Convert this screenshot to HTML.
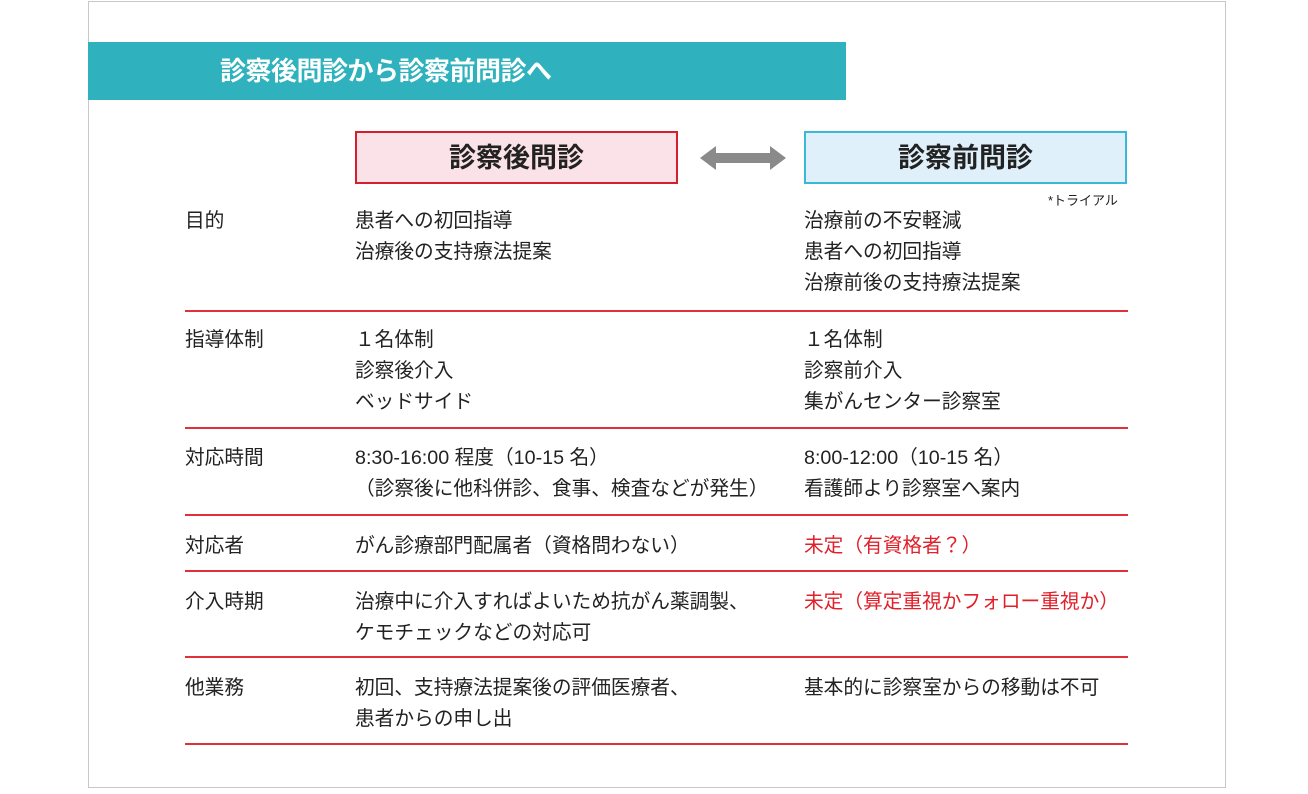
<!DOCTYPE html>
<html><head><meta charset="utf-8"><style>
body{margin:0;width:1308px;height:794px;background:#fff;position:relative;overflow:hidden;font-family:"Liberation Sans","Noto Sans CJK JP",sans-serif;color:#222}
.a{position:absolute}
.frame{left:88px;top:1px;width:1138px;height:787px;border:1px solid #c8c8c8;box-sizing:border-box}
.band{left:88px;top:42px;width:758px;height:58px;background:#2fb2bd}
.title{left:220px;top:55px;font-size:26px;font-weight:bold;color:#fff;line-height:32px;letter-spacing:-0.5px}
.box{top:131px;width:323px;height:53px;box-sizing:border-box;text-align:center;font-size:27px;font-weight:bold;line-height:50px}
.t{font-size:19.7px;line-height:31px;white-space:nowrap}
.r{color:#e0202a}
.hl{left:185px;width:943px;height:2px;background:#e0303a}
</style></head><body>
<div class="a frame"></div>
<div class="a band"></div>
<div class="a title">診察後問診から診察前問診へ</div>
<div class="a box" style="left:355px;background:#fbe1e8;border:2px solid #d4202e">診察後問診</div>
<div class="a box" style="left:804px;background:#dff0fb;border:2px solid #3bb8d8">診察前問診</div>
<svg class="a" style="left:698px;top:143px" width="90" height="30"><polygon points="2,15 18,3 18,10 72,10 72,3 88,15 72,27 72,20 18,20 18,27" fill="#8a8a8a"/></svg>
<div class="a" style="left:1048px;top:190px;font-size:13px">*トライアル</div>

<div class="a t" style="left:185px;top:206px">目的</div>
<div class="a t" style="left:355px;top:206px">患者への初回指導<br>治療後の支持療法提案</div>
<div class="a t" style="left:804px;top:206px">治療前の不安軽減<br>患者への初回指導<br>治療前後の支持療法提案</div>
<div class="a hl" style="top:310px"></div>

<div class="a t" style="left:185px;top:325px">指導体制</div>
<div class="a t" style="left:355px;top:325px">１名体制<br>診察後介入<br>ベッドサイド</div>
<div class="a t" style="left:804px;top:325px">１名体制<br>診察前介入<br>集がんセンター診察室</div>
<div class="a hl" style="top:427px"></div>

<div class="a t" style="left:185px;top:443px">対応時間</div>
<div class="a t" style="left:355px;top:443px">8:30-16:00 程度（10-15 名）<br>（診察後に他科併診、食事、検査などが発生）</div>
<div class="a t" style="left:804px;top:443px">8:00-12:00（10-15 名）<br>看護師より診察室へ案内</div>
<div class="a hl" style="top:514px"></div>

<div class="a t" style="left:185px;top:531px">対応者</div>
<div class="a t" style="left:355px;top:531px">がん診療部門配属者（資格問わない）</div>
<div class="a t r" style="left:804px;top:531px">未定（有資格者？）</div>
<div class="a hl" style="top:570px"></div>

<div class="a t" style="left:185px;top:587px">介入時期</div>
<div class="a t" style="left:355px;top:587px">治療中に介入すればよいため抗がん薬調製、<br>ケモチェックなどの対応可</div>
<div class="a t r" style="left:804px;top:587px">未定（算定重視かフォロー重視か）</div>
<div class="a hl" style="top:656px"></div>

<div class="a t" style="left:185px;top:673px">他業務</div>
<div class="a t" style="left:355px;top:673px">初回、支持療法提案後の評価医療者、<br>患者からの申し出</div>
<div class="a t" style="left:804px;top:673px">基本的に診察室からの移動は不可</div>
<div class="a hl" style="top:743px"></div>
</body></html>
